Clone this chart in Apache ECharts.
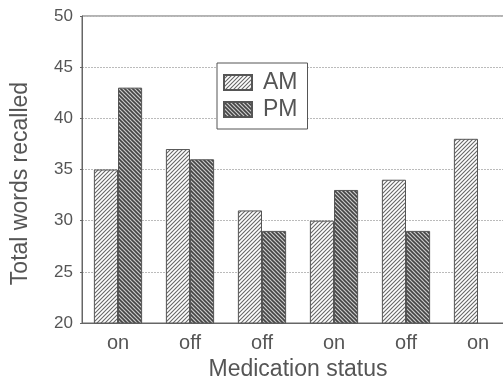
<!DOCTYPE html>
<html><head><meta charset="utf-8">
<script src="https://cdn.jsdelivr.net/npm/echarts@6/dist/echarts.min.js"></script>
<style>html,body{margin:0;padding:0;background:#fff}#c{width:503px;height:378px}</style>
</head><body><div id="c"></div>
<script>
const categories = ['on', 'off', 'off', 'on', 'off', 'on'];
const amValues = [35, 37, 31, 30, 34, 38];
const pmValues = [43, 36, 29, 33, 29, null];
const yTicks = { min: 20, max: 50, interval: 5 };

function hatch(dir, lw, color, bg) {
  const s = 4;
  const c = document.createElement('canvas');
  c.width = s; c.height = s;
  const g = c.getContext('2d');
  g.fillStyle = bg; g.fillRect(0, 0, s, s);
  g.strokeStyle = color; g.lineWidth = lw;
  const segs = dir === '/' ?
    [[-1, s + 1, s + 1, -1], [-1, 1, 1, -1], [s - 1, s + 1, s + 1, s - 1]] :
    [[-1, -1, s + 1, s + 1], [-1, s - 1, 1, s + 1], [s - 1, -1, s + 1, 1]];
  segs.forEach(p => { g.beginPath(); g.moveTo(p[0], p[1]); g.lineTo(p[2], p[3]); g.stroke(); });
  return { image: c, repeat: 'repeat' };
}

const txt = '#555';
const chart = echarts.init(document.getElementById('c'), null, { renderer: 'canvas' });
chart.setOption({
  backgroundColor: '#fff',
  animation: false,
  grid: { left: 82, top: 16, bottom: 55, width: 432, show: true, borderColor: '#666', borderWidth: 1,
          outerBoundsMode: 'none', containLabel: false },
  legend: {
    orient: 'vertical', left: 217, top: 63, icon: 'rect',
    padding: [8, 10, 8, 6], itemWidth: 28, itemHeight: 15, itemGap: 4,
    borderColor: '#555', borderWidth: 1, backgroundColor: '#fff',
    textStyle: { fontSize: 23, color: txt, fontFamily: 'Liberation Sans', padding: [0, 0, 0, 6] },
    data: ['AM', 'PM']
  },
  xAxis: {
    type: 'category', data: categories,
    name: 'Medication status', nameLocation: 'middle', nameGap: 34,
    nameTextStyle: { fontSize: 23, color: txt, fontFamily: 'Liberation Sans' },
    axisLine: { lineStyle: { color: '#666' } },
    axisTick: { show: false },
    axisLabel: { fontSize: 20, color: txt, fontFamily: 'Liberation Sans', margin: 10 }
  },
  yAxis: {
    type: 'value', min: yTicks.min, max: yTicks.max, interval: yTicks.interval,
    name: 'Total words recalled', nameLocation: 'middle', nameGap: 50,
    nameTextStyle: { fontSize: 23, color: txt, fontFamily: 'Liberation Sans', padding: [0, 28, 0, 0] },
    axisLine: { show: true, lineStyle: { color: '#666' } },
    axisTick: { show: true, length: 2, lineStyle: { color: '#666' } },
    axisLabel: { fontSize: 17, color: txt, fontFamily: 'Liberation Sans', margin: 9 },
    splitLine: { show: true, lineStyle: { color: '#bbb', type: [2, 1], width: 1 } }
  },
  series: [
    { name: 'AM', type: 'bar', data: amValues, barGap: '0%', barCategoryGap: '33%',
      itemStyle: { color: hatch('/', 1.1, '#666', '#fff'), borderColor: '#555', borderWidth: 1 } },
    { name: 'PM', type: 'bar', data: pmValues,
      itemStyle: { color: hatch('\\', 1.6, '#444', '#ccc'), borderColor: '#555', borderWidth: 1 } }
  ]
});
</script></body></html>
